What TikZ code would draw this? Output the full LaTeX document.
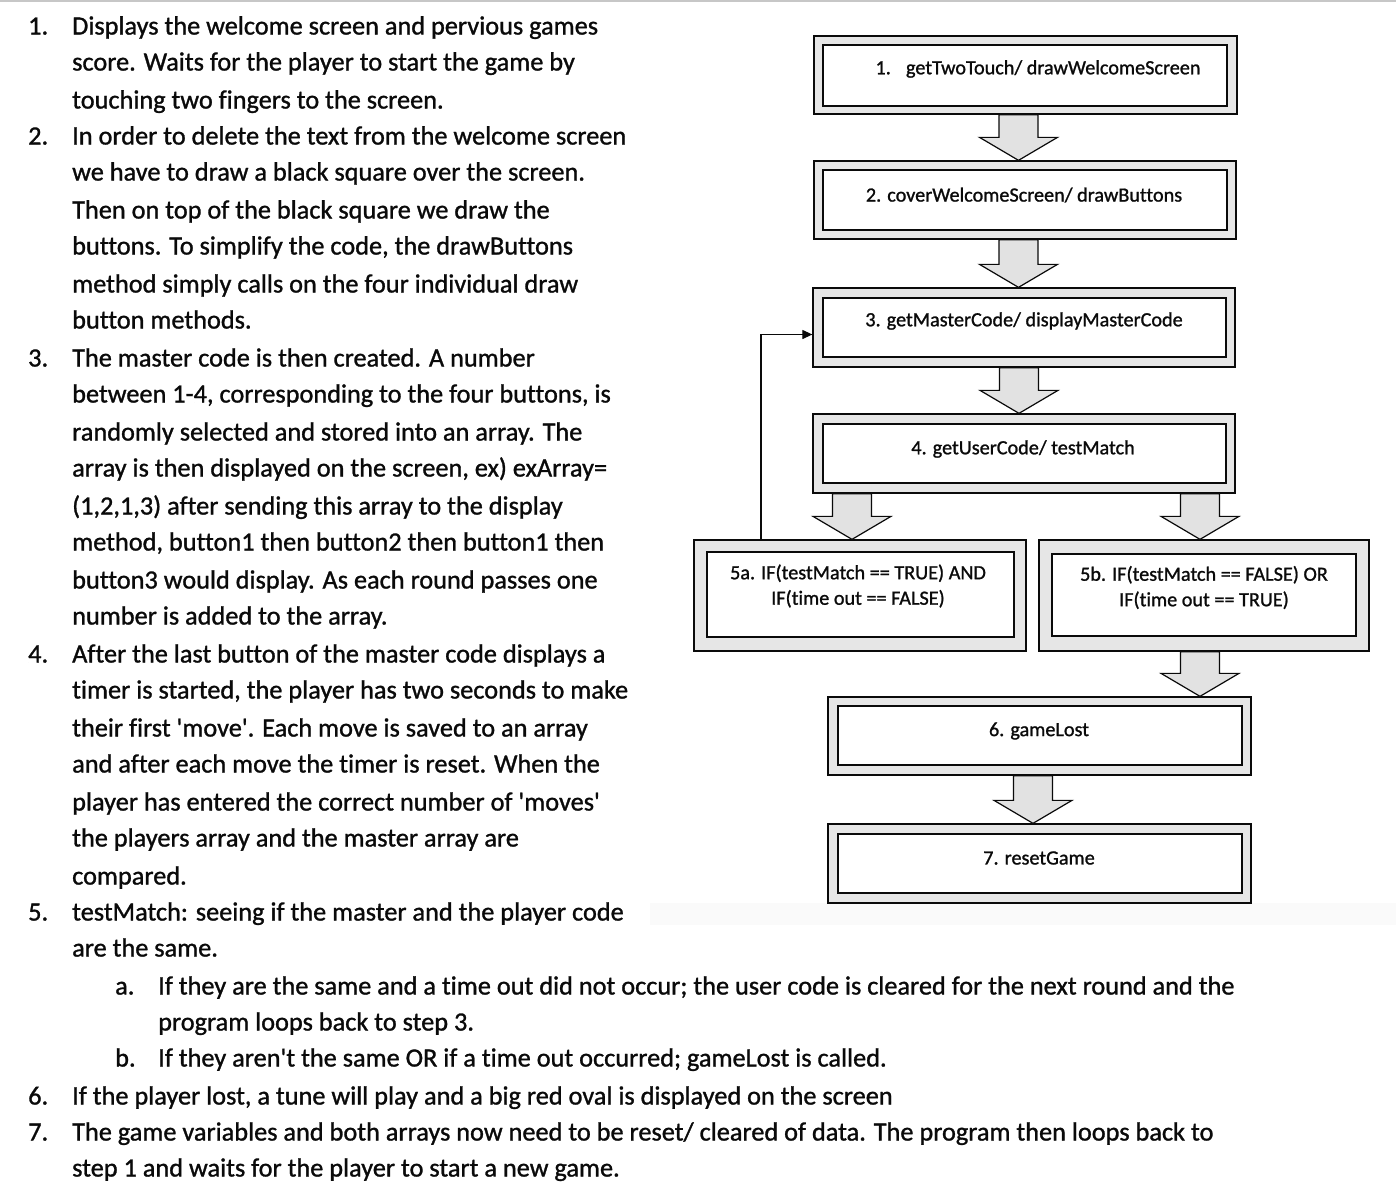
\documentclass[tikz,border=0pt]{standalone}
\usepackage{fontspec}
\setmainfont{Carlito}[Ligatures={TeXOff,NoCommon}, FakeBold=1.1]
\usetikzlibrary{arrows.meta,calc}
\definecolor{boxgray}{HTML}{E6E6E6}
\definecolor{arrgray}{HTML}{E2E2E2}
\definecolor{inkc}{HTML}{0A0A0A}
\tikzset{
  outerbox/.style={draw=inkc, line width=1.3pt, fill=boxgray, inner sep=0pt},
  innerbox/.style={draw=inkc, line width=1.4pt, fill=white, inner sep=0pt},
  boxtext/.style={inner sep=0pt, align=center, font=\fontsize{20.2}{25.5}\selectfont, text=inkc},
  blk/.style={draw=inkc, line width=1.2pt, fill=arrgray, line join=miter},
  bodyline/.style={anchor=base west, inner sep=0pt, font=\fontsize{26.3}{30}\selectfont, text=inkc},
  loopline/.style={draw=inkc, line width=1.2pt},
}
% block arrow from node #1 (south) to node #2 (north) at x = #3
\newcommand\blockarr[3]{%
  \path let \p1=(#1.south), \p2=(#2.north) in
    [blk] (#3pt-19.5pt,\y1) -- (#3pt-19.5pt,\y2+23pt) -- (#3pt-39pt,\y2+23pt)
     -- (#3pt,\y2) -- (#3pt+39pt,\y2+23pt) -- (#3pt+19.5pt,\y2+23pt)
     -- (#3pt+19.5pt,\y1) -- cycle;}
\newcommand\numln[3]{\node[bodyline] at (28,#1+8.5) {#2}; \node[bodyline] at (72,#1+8.5) {#3};}
\newcommand\txtln[2]{\node[bodyline] at (72,#1+8.5) {#2};}
\newcommand\subln[3]{\node[bodyline] at (115,#1+8.5) {#2}; \node[bodyline] at (158,#1+8.5) {#3};}
\newcommand\subtxt[2]{\node[bodyline] at (158,#1+8.5) {#2};}
\begin{document}
\begin{tikzpicture}[x=1pt,y=-1pt]
\useasboundingbox (0,0) rectangle (1396,1194);
\fill[white] (0,0) rectangle (1396,1194);
\draw[black!22, line width=2pt] (0,1) -- (1396,1);
\fill[black!2] (650,903) rectangle (1396,925);

% ---------- flowchart boxes ----------
\node[outerbox, minimum width=423pt, minimum height=78pt] (b1) at (1025.5,75) {};
\node[innerbox, minimum width=404pt, minimum height=61pt] (i1) at (1025,75.5) {};
\node[boxtext] (t1) at (1038,69) {1.\hspace{0.75em}getTwoTouch/ drawWelcomeScreen};

\node[outerbox, minimum width=422pt, minimum height=78pt] (b2) at (1025,200) {};
\node[innerbox, minimum width=404pt, minimum height=60pt] (i2) at (1025,200) {};
\node[boxtext] (t2) at (1024,195) {2. coverWelcomeScreen/ drawButtons};

\node[outerbox, minimum width=422pt, minimum height=79pt] (b3) at (1024,327.5) {};
\node[innerbox, minimum width=403pt, minimum height=59pt] (i3) at (1024.5,327.5) {};
\node[boxtext] (t3) at (1024,321) {3. getMasterCode/ displayMasterCode};

\node[outerbox, minimum width=422pt, minimum height=79pt] (b4) at (1024,453.5) {};
\node[innerbox, minimum width=403pt, minimum height=59pt] (i4) at (1024.5,453.5) {};
\node[boxtext] (t4) at (1023,449) {4. getUserCode/ testMatch};

\node[outerbox, minimum width=332pt, minimum height=111pt] (b5a) at (860,595.5) {};
\node[innerbox, minimum width=307pt, minimum height=85pt] (i5a) at (860.5,594.5) {};
\node[boxtext] (t5a) at (858,586) {5a. IF(testMatch == TRUE) AND\\IF(time out == FALSE)};

\node[outerbox, minimum width=330pt, minimum height=111pt] (b5b) at (1204,595.5) {};
\node[innerbox, minimum width=304pt, minimum height=82pt] (i5b) at (1204,595) {};
\node[boxtext] (t5b) at (1204,587.5) {5b. IF(testMatch == FALSE) OR\\IF(time out == TRUE)};

\node[outerbox, minimum width=423pt, minimum height=78pt] (b6) at (1039.5,736) {};
\node[innerbox, minimum width=404pt, minimum height=59pt] (i6) at (1040,735.5) {};
\node[boxtext] (t6) at (1039,731) {6. gameLost};

\node[outerbox, minimum width=423pt, minimum height=79pt] (b7) at (1039.5,863.5) {};
\node[innerbox, minimum width=404pt, minimum height=59pt] (i7) at (1040,863.5) {};
\node[boxtext] (t7) at (1039,858) {7. resetGame};

% ---------- block arrows ----------
\blockarr{b1}{b2}{1018.5}
\blockarr{b2}{b3}{1018.5}
\blockarr{b3}{b4}{1019}
\blockarr{b4}{b5a}{852}
\blockarr{b4}{b5b}{1200}
\blockarr{b5b}{b6}{1200}
\blockarr{b6}{b7}{1033}

% ---------- loop back arrow ----------
\coordinate (lp) at (761,540);
\draw[loopline, -{Triangle[length=10pt,width=9pt]}] (b5a.north -| lp) |- ([yshift=-7pt]b3.west);

% ---------- left text ----------
\numln{26}{1.}{Displays the welcome screen and pervious games}
\txtln{62}{score. Waits for the player to start the game by}
\txtln{100}{touching two fingers to the screen.}
\numln{136}{2.}{In order to delete the text from the welcome screen}
\txtln{172}{we have to draw a black square over the screen.}
\txtln{210}{Then on top of the black square we draw the}
\txtln{246}{buttons. To simplify the code, the drawButtons}
\txtln{284}{method simply calls on the four individual draw}
\txtln{320}{button methods.}
\numln{358}{3.}{The master code is then created. A number}
\txtln{394}{between 1-4, corresponding to the four buttons, is}
\txtln{432}{randomly selected and stored into an array. The}
\txtln{468}{array is then displayed on the screen, ex) exArray=}
\txtln{506}{(1,2,1,3) after sending this array to the display}
\txtln{542}{method, button1 then button2 then button1 then}
\txtln{580}{button3 would display. As each round passes one}
\txtln{616}{number is added to the array.}
\numln{654}{4.}{After the last button of the master code displays a}
\txtln{690}{timer is started, the player has two seconds to make}
\txtln{728}{their first 'move'. Each move is saved to an array}
\txtln{764}{and after each move the timer is reset. When the}
\txtln{802}{player has entered the correct number of 'moves'}
\txtln{838}{the players array and the master array are}
\txtln{876}{compared.}
\numln{912}{5.}{testMatch: seeing if the master and the player code}
\txtln{948}{are the same.}
\subln{986}{a.}{If they are the same and a time out did not occur; the user code is cleared for the next round and the}
\subtxt{1022}{program loops back to step 3.}
\subln{1058}{b.}{If they aren't the same OR if a time out occurred; gameLost is called.}
\numln{1096}{6.}{If the player lost, a tune will play and a big red oval is displayed on the screen}
\numln{1132}{7.}{The game variables and both arrays now need to be reset/ cleared of data. The program then loops back to}
\txtln{1168}{step 1 and waits for the player to start a new game.}
\end{tikzpicture}
\end{document}
